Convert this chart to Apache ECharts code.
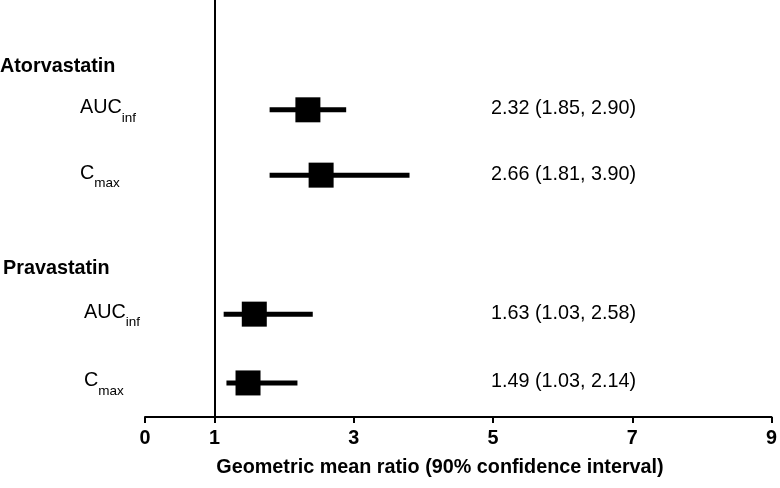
<!DOCTYPE html>
<html><head><meta charset="utf-8">
<script src="https://cdn.jsdelivr.net/npm/echarts@6/dist/echarts.min.js"></script>
<style>html,body{margin:0;padding:0;background:#fff}#c{width:780px;height:488px}</style>
</head><body><div id="c"></div>
<script>
// ---- data ----
const groups = ['Atorvastatin', 'Pravastatin'];
const groupRows = [0.96, 3.86];
const paramMain = ['AUC', 'C', 'AUC', 'C'];
const paramSub = ['inf', 'max', 'inf', 'max'];
const rows = [1.58, 2.52, 4.52, 5.51];
const estimates = [2.34, 2.53, 1.57, 1.48];
const lower = [1.79, 1.79, 1.13, 1.17];
const upper = [2.89, 3.80, 2.41, 2.19];
const ciLabels = ['2.32 (1.85, 2.90)', '2.66 (1.81, 3.90)', '1.63 (1.03, 2.58)', '1.49 (1.03, 2.14)'];
const tickValues = [0, 1, 3, 5, 7, 9];
const refValue = 1;
const xTitle = 'Geometric mean ratio (90% confidence interval)';

const FONT = 'Liberation Sans, Arial, Helvetica, sans-serif';
const FS = 19.8;

const chart = echarts.init(document.getElementById('c'), null, { renderer: 'canvas' });

const forestData = rows.map((r, i) => [r, estimates[i], lower[i], upper[i]]);
const labelData = rows.map((r, i) => [r, i, 0]).concat(groupRows.map((r, i) => [r, i, 1]));

chart.setOption({
  animation: false,
  backgroundColor: '#fff',
  grid: { left: 145, right: 7, top: 0, bottom: 71 },
  xAxis: {
    type: 'value', min: 0, max: 9, position: 'bottom',
    axisLine: { onZero: false, lineStyle: { color: '#000', width: 2 } },
    axisTick: { customValues: tickValues, length: 6, lineStyle: { color: '#000', width: 2 } },
    axisLabel: { customValues: tickValues, color: '#000', fontWeight: 'bold', fontSize: FS, fontFamily: FONT, margin: 12 },
    splitLine: { show: false }
  },
  yAxis: { type: 'value', min: 0, max: 6, inverse: true, show: false },
  graphic: [{
    type: 'text', x: 440, y: 468,
    style: { text: xTitle, align: 'center', verticalAlign: 'middle', fontSize: FS, fontWeight: 'bold', fontFamily: FONT, fill: '#000' }
  }],
  series: [
    {
      type: 'custom',
      data: forestData,
      encode: { x: [1, 2, 3], y: 0 },
      clip: false,
      renderItem: function (params, api) {
        const y = api.value(0), est = api.value(1), lo = api.value(2), hi = api.value(3);
        const p1 = api.coord([lo, y]), p2 = api.coord([hi, y]), pc = api.coord([est, y]);
        return {
          type: 'group', children: [
            { type: 'line', shape: { x1: p1[0], y1: p1[1], x2: p2[0], y2: p2[1] }, style: { stroke: '#000', lineWidth: 5 } },
            { type: 'rect', shape: { x: pc[0] - 12.5, y: pc[1] - 12.5, width: 25, height: 25 }, style: { fill: '#000' } }
          ]
        };
      },
      markLine: {
        silent: true, symbol: 'none', label: { show: false },
        lineStyle: { color: '#000', width: 2, type: 'solid' },
        data: [{ xAxis: refValue }]
      }
    },
    {
      type: 'custom',
      data: labelData,
      encode: { y: 0 },
      clip: false,
      silent: true,
      renderItem: function (params, api) {
        const y = api.value(0), idx = api.value(1), kind = api.value(2);
        const origin = api.coord([0, y]);
        if (kind === 1) {
          return {
            type: 'text', x: idx === 0 ? 0 : 3, y: origin[1],
            style: { text: groups[idx], align: 'left', verticalAlign: 'middle', fontSize: FS, fontWeight: 'bold', fontFamily: FONT, fill: '#000' }
          };
        }
        const indent = idx < 2 ? 65 : 61;
        const right = api.coord([4.97, y]);
        return {
          type: 'group', children: [
            {
              type: 'text', x: origin[0] - indent, y: origin[1] - 1,
              style: {
                text: '{b|' + paramMain[idx] + '}{s|' + paramSub[idx] + '}',
                align: 'left', verticalAlign: 'middle', fill: '#000', fontFamily: FONT,
                rich: {
                  b: { fontSize: FS, lineHeight: 22, verticalAlign: 'top', fontFamily: FONT, fill: '#000' },
                  s: { fontSize: 13.5, lineHeight: 14, verticalAlign: 'top', padding: [13, 0, 0, 0], fontFamily: FONT, fill: '#000' }
                }
              }
            },
            {
              type: 'text', x: right[0], y: right[1] - 1,
              style: { text: ciLabels[idx], align: 'left', verticalAlign: 'middle', fontSize: FS, fontFamily: FONT, fill: '#000' }
            }
          ]
        };
      }
    }
  ]
});
</script>
</body></html>
